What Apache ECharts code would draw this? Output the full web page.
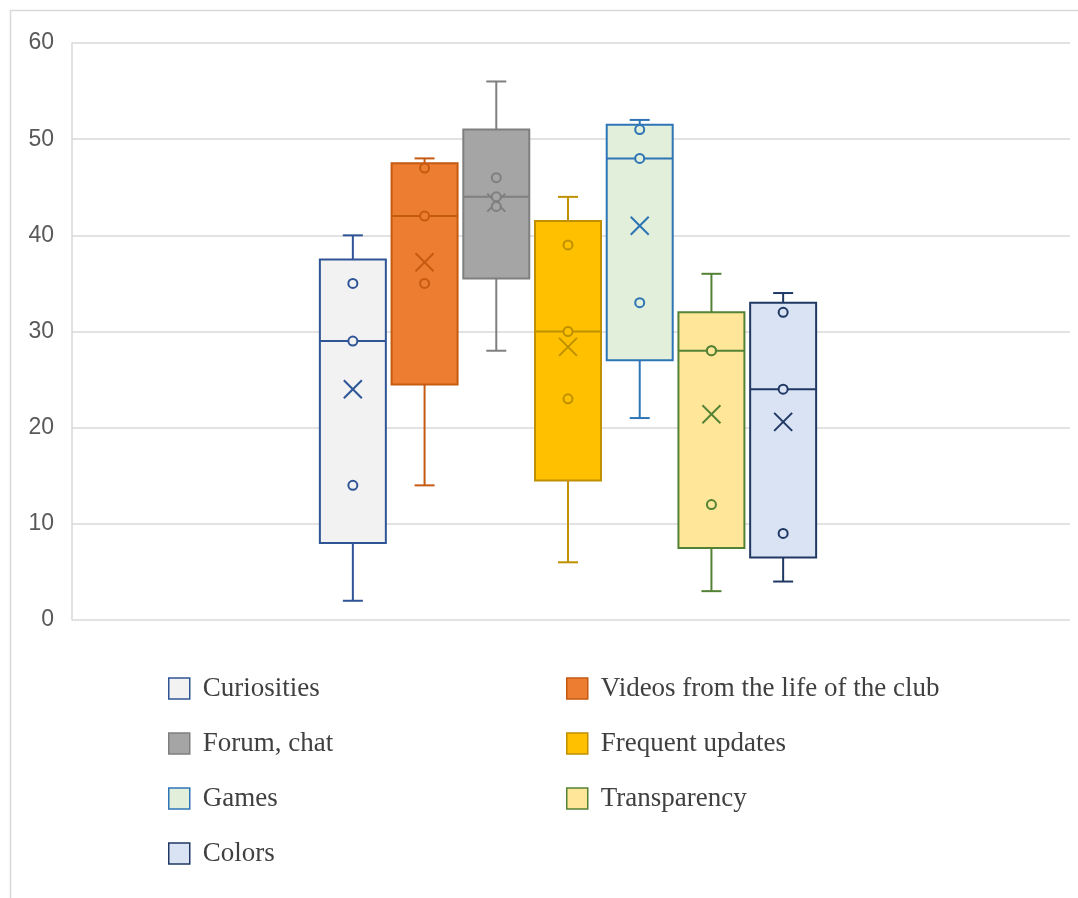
<!DOCTYPE html>
<html>
<head>
<meta charset="utf-8">
<script src="https://cdn.jsdelivr.net/npm/echarts@6/dist/echarts.min.js"></script>
<style>
  html, body { margin: 0; padding: 0; background: #ffffff; }
  #chart { width: 1078px; height: 898px; }
</style>
</head>
<body>
<div id="chart"></div>
<script>
// Survey answers per website feature (raw responses, one array per feature)
const categories = [
  'Curiosities',
  'Videos from the life of the club',
  'Forum, chat',
  'Frequent updates',
  'Games',
  'Transparency',
  'Colors'
];
const curiosities = [2, 14, 29, 35, 40];
const videosFromClubLife = [14, 35, 42, 47, 48];
const forumChat = [28, 43, 44, 46, 56];
const frequentUpdates = [6, 23, 30, 39, 44];
const games = [21, 33, 48, 51, 52];
const transparency = [3, 12, 28, 28, 36];
const colorsFeature = [4, 9, 24, 32, 34];
const yTicks = [0, 10, 20, 30, 40, 50, 60];

const samples = [curiosities, videosFromClubLife, forumChat, frequentUpdates, games, transparency, colorsFeature];

// Box fills and outline colours, in category order
const boxFills   = ['#f2f2f2', '#ed7d31', '#a5a5a5', '#ffc000', '#e2efda', '#ffe699', '#dae3f3'];
const boxStrokes = ['#2f5597', '#c55a11', '#7f7f7f', '#bf9000', '#2e75b6', '#548235', '#203864'];

// Exclusive quartile (Excel default for box & whisker)
function quartileExc(sorted, p) {
  const n = sorted.length;
  const pos = p * (n + 1);
  const lo = Math.floor(pos);
  const frac = pos - lo;
  if (lo < 1) return sorted[0];
  if (lo >= n) return sorted[n - 1];
  return sorted[lo - 1] + frac * (sorted[lo] - sorted[lo - 1]);
}

function boxStats(values, idx) {
  const s = values.slice().sort((a, b) => a - b);
  const q1 = quartileExc(s, 0.25);
  const med = quartileExc(s, 0.5);
  const q3 = quartileExc(s, 0.75);
  const iqr = q3 - q1;
  const inside = s.filter(v => v >= q1 - 1.5 * iqr && v <= q3 + 1.5 * iqr);
  const lo = inside[0];
  const hi = inside[inside.length - 1];
  const mean = s.reduce((a, b) => a + b, 0) / s.length;
  return [idx, lo, q1, med, q3, hi, mean];
}

function innerPoints(values, idx) {
  const s = values.slice().sort((a, b) => a - b);
  return s.slice(1, s.length - 1).map(v => [idx, v]);
}

function renderBox(params, api) {
  const i = api.value(0);
  const cx = api.coord([i, 0])[0];
  const band = api.size([1, 0])[0];
  const w = band * 0.92;
  const yLo = api.coord([i, api.value(1)])[1];
  const yQ1 = api.coord([i, api.value(2)])[1];
  const yMed = api.coord([i, api.value(3)])[1];
  const yQ3 = api.coord([i, api.value(4)])[1];
  const yHi = api.coord([i, api.value(5)])[1];
  const yMean = api.coord([i, api.value(6)])[1];
  const stroke = boxStrokes[i];
  const fill = boxFills[i];
  const cap = 10;
  const xh = 9;
  const ln = { stroke: stroke, lineWidth: 2 };
  return {
    type: 'group',
    children: [
      { type: 'line', shape: { x1: cx, y1: yQ3, x2: cx, y2: yHi }, style: ln },
      { type: 'line', shape: { x1: cx - cap, y1: yHi, x2: cx + cap, y2: yHi }, style: ln },
      { type: 'line', shape: { x1: cx, y1: yQ1, x2: cx, y2: yLo }, style: ln },
      { type: 'line', shape: { x1: cx - cap, y1: yLo, x2: cx + cap, y2: yLo }, style: ln },
      { type: 'rect', shape: { x: cx - w / 2, y: yQ3, width: w, height: yQ1 - yQ3 },
        style: { fill: fill, stroke: stroke, lineWidth: 2 } },
      { type: 'line', shape: { x1: cx - w / 2, y1: yMed, x2: cx + w / 2, y2: yMed }, style: ln },
      { type: 'line', shape: { x1: cx - xh, y1: yMean - xh, x2: cx + xh, y2: yMean + xh }, style: ln },
      { type: 'line', shape: { x1: cx - xh, y1: yMean + xh, x2: cx + xh, y2: yMean - xh }, style: ln }
    ]
  };
}

const series = [];
categories.forEach((name, i) => {
  series.push({
    name: name,
    type: 'custom',
    xAxisIndex: 1,
    yAxisIndex: 1,
    renderItem: renderBox,
    encode: { x: 0, y: [1, 2, 3, 4, 5] },
    itemStyle: { color: boxFills[i], borderColor: boxStrokes[i], borderWidth: 2 },
    data: [boxStats(samples[i], i)],
    z: 2
  });
  series.push({
    name: name,
    type: 'scatter',
    xAxisIndex: 1,
    yAxisIndex: 1,
    symbol: 'circle',
    symbolSize: 9,
    itemStyle: { color: boxFills[i], borderColor: boxStrokes[i], borderWidth: 2, opacity: 1 },
    data: innerPoints(samples[i], i),
    z: 3,
    silent: true
  });
});

function legendItems(idxList) {
  return idxList.map(i => ({
    name: categories[i],
    icon: 'rect',
    itemStyle: { color: boxFills[i], borderColor: boxStrokes[i], borderWidth: 1.5 }
  }));
}

const legendText = {
  fontFamily: '"Liberation Serif", "Times New Roman", serif',
  fontSize: 27,
  color: '#404040',
  padding: [0, 0, 0, 8]
};

const chart = echarts.init(document.getElementById('chart'), null, { renderer: 'canvas' });
chart.setOption({
  backgroundColor: '#ffffff',
  animation: false,
  grid: [
    { left: 72, right: 8, top: 43, bottom: 278 },
    { left: 317, right: 259, top: 43, bottom: 278 }
  ],
  xAxis: [
    { type: 'value', gridIndex: 0, min: 0, max: 1, show: false },
    { type: 'category', gridIndex: 1, data: categories, show: false, boundaryGap: true }
  ],
  yAxis: [
    {
      type: 'value', gridIndex: 0,
      min: yTicks[0], max: yTicks[yTicks.length - 1], interval: 10,
      axisLine: { show: true, lineStyle: { color: '#d9d9d9', width: 1.5 } },
      axisTick: { show: false },
      axisLabel: {
        margin: 18,
        fontFamily: '"Liberation Sans", Arial, sans-serif',
        fontSize: 23,
        color: '#595959'
      },
      splitLine: { show: true, lineStyle: { color: '#d9d9d9', width: 1.5 } }
    },
    { type: 'value', gridIndex: 1, min: yTicks[0], max: yTicks[yTicks.length - 1], show: false }
  ],
  legend: [
    {
      orient: 'vertical', left: 168, top: 675, padding: 0,
      itemWidth: 21, itemHeight: 21, itemGap: 28,
      selectedMode: false,
      textStyle: legendText,
      data: legendItems([0, 2, 4, 6])
    },
    {
      orient: 'vertical', left: 566, top: 675, padding: 0,
      itemWidth: 21, itemHeight: 21, itemGap: 28,
      selectedMode: false,
      textStyle: legendText,
      data: legendItems([1, 3, 5])
    }
  ],
  graphic: [
    {
      type: 'polyline',
      silent: true,
      shape: { points: [[10.5, 898], [10.5, 10.5], [1078, 10.5]] },
      style: { stroke: '#d9d9d9', lineWidth: 1.5, fill: null }
    }
  ],
  series: series
});
</script>
</body>
</html>
